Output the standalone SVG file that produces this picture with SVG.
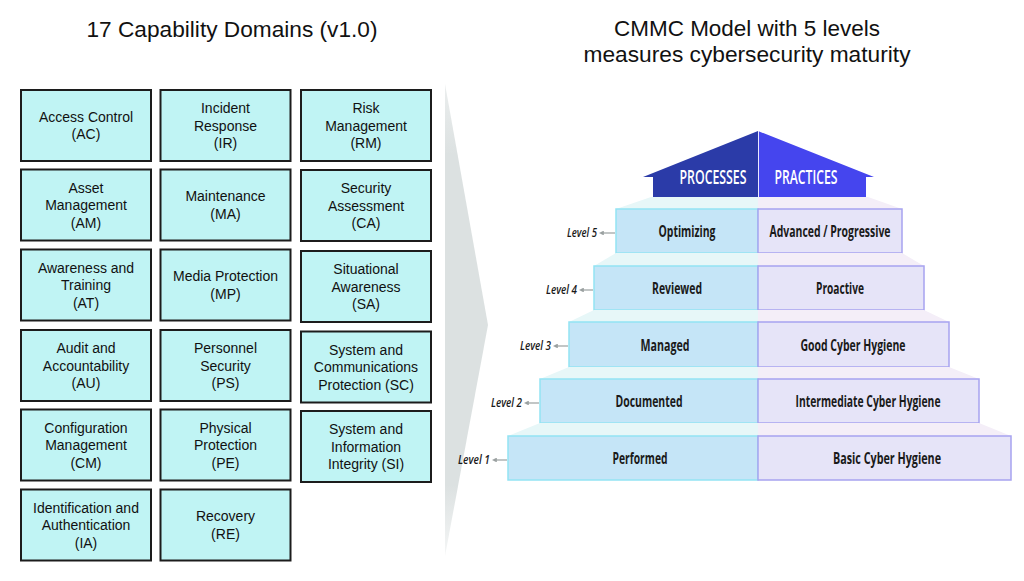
<svg xmlns="http://www.w3.org/2000/svg" width="1024" height="581" viewBox="0 0 1024 581">
<style>
.title{font-family:"Liberation Sans",Arial,sans-serif;font-size:22px;fill:#111;text-anchor:middle}
.dom rect{fill:#c0f4f4;stroke:#1c1c1c;stroke-width:2}
.dom text{font-family:"Liberation Sans",Arial,sans-serif;font-size:14px;fill:#111;text-anchor:middle}
.pl{fill:#c5e5f7;stroke:#93e3f3;stroke-width:1.5}
.pr{fill:#e6e4f8;stroke:#a7a3f0;stroke-width:1.5}
.fl{fill:#e7f7f8}
.fr{fill:#f4eef8}
.lt{font-family:"Open Sans","Liberation Sans",sans-serif;font-weight:700;font-size:16.5px;fill:#1a1a1a;text-anchor:middle}
.roof{font-family:"Open Sans","Liberation Sans",sans-serif;font-weight:600;font-size:19px;fill:#fff;text-anchor:middle}
.lvl{font-family:"Open Sans","Liberation Sans",sans-serif;font-style:italic;font-weight:600;font-size:13px;fill:#1a1a1a;text-anchor:end}
.con line{stroke:#9aa0a0;stroke-width:1.2}
</style>
<defs>
<linearGradient id="chev" x1="0" y1="0" x2="0" y2="1">
<stop offset="0" stop-color="#dde2e2" stop-opacity="0.6"/>
<stop offset="0.15" stop-color="#dce1e1"/>
<stop offset="0.85" stop-color="#dce1e1"/>
<stop offset="1" stop-color="#dce1e1" stop-opacity="0.3"/>
</linearGradient>
<marker id="ah" viewBox="0 0 6 6" refX="1" refY="3" markerWidth="4" markerHeight="4" orient="auto-start-reverse">
<path d="M0,0 L6,3 L0,6 z" fill="#9aa0a0"/>
</marker>
</defs>
<rect width="1024" height="581" fill="#fff"/>

<text class="title" x="232" y="37" textLength="291" lengthAdjust="spacingAndGlyphs">17 Capability Domains (v1.0)</text>
<text class="title" x="747" y="36" textLength="266" lengthAdjust="spacingAndGlyphs">CMMC Model with 5 levels</text>
<text class="title" x="747" y="62" textLength="327" lengthAdjust="spacingAndGlyphs">measures cybersecurity maturity</text>

<polygon id="chevron" points="445,84 488,325 445,556" fill="url(#chev)"/>

<g id="domains">
<g id="AC" class="dom"><rect x="21" y="90" width="130" height="71"/><text x="86" y="121.5">Access Control</text><text x="86" y="139">(AC)</text></g>
<g id="IR" class="dom"><rect x="160.5" y="90" width="130" height="71"/><text x="225.5" y="113">Incident</text><text x="225.5" y="130.5">Response</text><text x="225.5" y="148">(IR)</text></g>
<g id="RM" class="dom"><rect x="301" y="90" width="130" height="71"/><text x="366" y="113">Risk</text><text x="366" y="130.5">Management</text><text x="366" y="148">(RM)</text></g>

<g id="AM" class="dom"><rect x="21" y="169.5" width="130" height="71"/><text x="86" y="192.5">Asset</text><text x="86" y="210">Management</text><text x="86" y="227.5">(AM)</text></g>
<g id="MA" class="dom"><rect x="160.5" y="169.5" width="130" height="71"/><text x="225.5" y="201">Maintenance</text><text x="225.5" y="218.5">(MA)</text></g>
<g id="CA" class="dom"><rect x="301" y="170" width="130" height="71"/><text x="366" y="193">Security</text><text x="366" y="210.5">Assessment</text><text x="366" y="228">(CA)</text></g>

<g id="AT" class="dom"><rect x="21" y="249.5" width="130" height="71"/><text x="86" y="272.5">Awareness and</text><text x="86" y="290">Training</text><text x="86" y="307.5">(AT)</text></g>
<g id="MP" class="dom"><rect x="160.5" y="249.5" width="130" height="71"/><text x="225.5" y="281">Media Protection</text><text x="225.5" y="298.5">(MP)</text></g>
<g id="SA" class="dom"><rect x="301" y="251" width="130" height="71"/><text x="366" y="274">Situational</text><text x="366" y="291.5">Awareness</text><text x="366" y="309">(SA)</text></g>

<g id="AU" class="dom"><rect x="21" y="330" width="130" height="71"/><text x="86" y="353">Audit and</text><text x="86" y="370.5">Accountability</text><text x="86" y="388">(AU)</text></g>
<g id="PS" class="dom"><rect x="160.5" y="330" width="130" height="71"/><text x="225.5" y="353">Personnel</text><text x="225.5" y="370.5">Security</text><text x="225.5" y="388">(PS)</text></g>
<g id="SC" class="dom"><rect x="301" y="331.5" width="130" height="71"/><text x="366" y="354.5">System and</text><text x="366" y="372">Communications</text><text x="366" y="389.5">Protection (SC)</text></g>

<g id="CM" class="dom"><rect x="21" y="409.5" width="130" height="71"/><text x="86" y="432.5">Configuration</text><text x="86" y="450">Management</text><text x="86" y="467.5">(CM)</text></g>
<g id="PE" class="dom"><rect x="160.5" y="409.5" width="130" height="71"/><text x="225.5" y="432.5">Physical</text><text x="225.5" y="450">Protection</text><text x="225.5" y="467.5">(PE)</text></g>
<g id="SI" class="dom"><rect x="301" y="411" width="130" height="71"/><text x="366" y="434">System and</text><text x="366" y="451.5">Information</text><text x="366" y="469">Integrity (SI)</text></g>

<g id="IA" class="dom"><rect x="21" y="489.5" width="130" height="71"/><text x="86" y="512.5">Identification and</text><text x="86" y="530">Authentication</text><text x="86" y="547.5">(IA)</text></g>
<g id="RE" class="dom"><rect x="160.5" y="489.5" width="130" height="71"/><text x="225.5" y="521">Recovery</text><text x="225.5" y="538.5">(RE)</text></g>
</g>

<g id="roof">
<polygon points="758,131 643,177 653,177 653,197 758,197" fill="#2b3ba8"/>
<polygon points="758,131 874,177 866,177 866,197 758,197" fill="#4545ee"/>
<line x1="758.5" y1="131" x2="758.5" y2="197" stroke="#e8e8ff" stroke-width="1"/>
<text class="roof" x="713" y="183.5" textLength="67" lengthAdjust="spacingAndGlyphs">PROCESSES</text>
<text class="roof" x="806" y="183.5" textLength="63" lengthAdjust="spacingAndGlyphs">PRACTICES</text>
</g>

<g id="level5">
<polygon class="fl" points="651,197 758,197 758,209 616,209"/>
<polygon class="fr" points="758,197 868,197 902,209 758,209"/>
<rect class="pl" x="616" y="209" width="142" height="44"/>
<rect class="pr" x="758" y="209" width="144" height="44"/>
<text class="lt" x="687" y="237" textLength="57" lengthAdjust="spacingAndGlyphs">Optimizing</text>
<text class="lt" x="830" y="237" textLength="121" lengthAdjust="spacingAndGlyphs">Advanced / Progressive</text>
</g>

<g id="level4">
<polygon class="fl" points="616,253 758,253 758,266 594,266"/>
<polygon class="fr" points="758,253 902,253 924,266 758,266"/>
<rect class="pl" x="594" y="266" width="164" height="44"/>
<rect class="pr" x="758" y="266" width="166" height="44"/>
<text class="lt" x="677" y="294" textLength="50" lengthAdjust="spacingAndGlyphs">Reviewed</text>
<text class="lt" x="840" y="294" textLength="48" lengthAdjust="spacingAndGlyphs">Proactive</text>
</g>

<g id="level3">
<polygon class="fl" points="594,310 758,310 758,322 569,322"/>
<polygon class="fr" points="758,310 924,310 949,322 758,322"/>
<rect class="pl" x="569" y="322" width="189" height="45"/>
<rect class="pr" x="758" y="322" width="191" height="45"/>
<text class="lt" x="665" y="350.5" textLength="49" lengthAdjust="spacingAndGlyphs">Managed</text>
<text class="lt" x="853" y="350.5" textLength="105" lengthAdjust="spacingAndGlyphs">Good Cyber Hygiene</text>
</g>

<g id="level2">
<polygon class="fl" points="569,367 758,367 758,379 540,379"/>
<polygon class="fr" points="758,367 949,367 979,379 758,379"/>
<rect class="pl" x="540" y="379" width="218" height="44"/>
<rect class="pr" x="758" y="379" width="221" height="44"/>
<text class="lt" x="649" y="407" textLength="67" lengthAdjust="spacingAndGlyphs">Documented</text>
<text class="lt" x="868" y="407" textLength="145" lengthAdjust="spacingAndGlyphs">Intermediate Cyber Hygiene</text>
</g>

<g id="level1">
<polygon class="fl" points="540,423 758,423 758,436 508,436"/>
<polygon class="fr" points="758,423 979,423 1011,436 758,436"/>
<rect class="pl" x="508" y="436" width="250" height="44"/>
<rect class="pr" x="758" y="436" width="253" height="44"/>
<text class="lt" x="640" y="464" textLength="55" lengthAdjust="spacingAndGlyphs">Performed</text>
<text class="lt" x="887" y="464" textLength="108" lengthAdjust="spacingAndGlyphs">Basic Cyber Hygiene</text>
</g>

<g id="level-labels">
<text class="lvl" x="597" y="237" textLength="30" lengthAdjust="spacingAndGlyphs">Level 5</text>
<text class="lvl" x="577" y="294" textLength="31" lengthAdjust="spacingAndGlyphs">Level 4</text>
<text class="lvl" x="551" y="350" textLength="31" lengthAdjust="spacingAndGlyphs">Level 3</text>
<text class="lvl" x="522" y="407" textLength="31" lengthAdjust="spacingAndGlyphs">Level 2</text>
<text class="lvl" x="490" y="464" textLength="32" lengthAdjust="spacingAndGlyphs">Level 1</text>
</g>

<g id="connectors" class="con">
<line x1="603" y1="233" x2="615" y2="233" marker-start="url(#ah)"/>
<line x1="583" y1="290" x2="593" y2="290" marker-start="url(#ah)"/>
<line x1="557" y1="346" x2="568" y2="346" marker-start="url(#ah)"/>
<line x1="528" y1="403" x2="539" y2="403" marker-start="url(#ah)"/>
<line x1="496" y1="460" x2="507" y2="460" marker-start="url(#ah)"/>
</g>
</svg>
